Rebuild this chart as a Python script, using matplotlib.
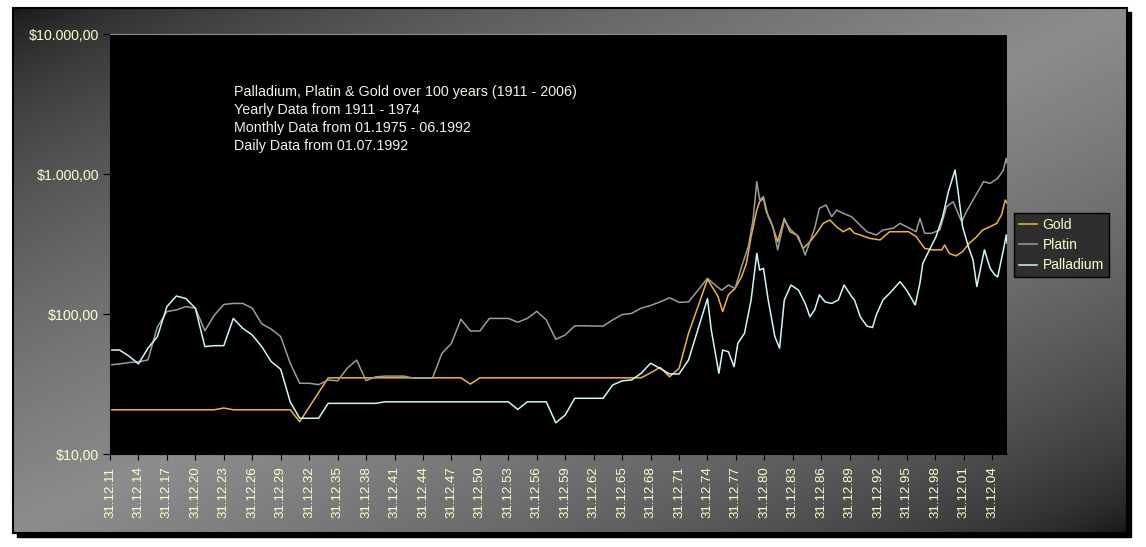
import numpy as np
import matplotlib
matplotlib.use('agg')
import matplotlib.pyplot as plt
from matplotlib.patches import Rectangle
from matplotlib.ticker import FixedLocator, NullLocator

plt.rcParams['font.family'] = ['Liberation Sans', 'DejaVu Sans']

# --- data (decimal year, USD/oz); 31.12.YYYY is placed at YYYY+1 ---
gold_x = [1912, 1923, 1924, 1925, 1931, 1932, 1933, 1934, 1935, 1949, 1950, 1951,
          1968, 1969, 1970, 1971, 1972, 1973, 1974, 1975,
          1975.6, 1976.1, 1976.6, 1977.2, 1977.9, 1978.6, 1979.1, 1979.6, 1980.2, 1980.5,
          1980.9, 1981.2, 1981.7, 1982.4, 1983.1, 1983.7, 1984.4, 1985.1, 1985.8, 1986.5,
          1987.2, 1987.9, 1988.6, 1989.3, 1990.0, 1990.5, 1991.1, 1992.1, 1993.2, 1994.2,
          1995.3, 1996.2, 1997.0, 1997.9, 1998.8, 1999.7, 2000.0, 2000.5, 2001.2, 2001.9,
          2002.6, 2003.4, 2004.0, 2004.8, 2005.5, 2006.0, 2006.4, 2006.58]
gold_y = [20.7, 20.7, 21.3, 20.7, 20.7, 17.0, 21.6, 27.5, 35, 35, 31.6, 35,
          35, 38, 41.6, 35.6, 40.9, 72.8, 113, 177,
          152, 134, 104, 137, 152, 185, 230, 357, 553, 634,
          670, 538, 456, 328, 482, 387, 367, 294, 328, 377,
          444, 469, 420, 387, 410, 377, 367, 347, 338, 387,
          387, 387, 357, 294, 287, 287, 311, 271, 260, 279,
          320, 357, 398, 420, 444, 510, 652, 620]

platin_x = list(range(1912, 1976)) + [
    1975.8, 1976.5, 1977.2, 1977.9, 1978.6, 1979.3, 1979.8, 1980.2, 1980.5, 1980.9,
    1981.4, 1981.9, 1982.4, 1983.1, 1983.8, 1984.6, 1985.3, 1985.8, 1986.3, 1986.8,
    1987.5, 1988.1, 1988.6, 1989.3, 1990.2, 1990.9, 1991.8, 1992.8, 1993.5, 1994.6,
    1995.3, 1996.3, 1997.0, 1997.4, 1997.9, 1998.6, 1999.5, 2000.2, 2000.9, 2001.2,
    2001.8, 2002.3, 2003.2, 2004.1, 2004.8, 2005.6, 2006.2, 2006.5, 2006.58]
platin_y = [43.3, 44, 45, 45.5, 47, 81, 104, 107, 113, 110,
            76, 98, 117, 119, 119, 110, 85, 78, 69, 44.5,
            32, 32, 31.3, 33.8, 33.3, 40.9, 46.9, 33.4, 35.6, 36,
            36, 36, 34.8, 34.8, 34.8, 52.4, 61.7, 91.7, 75.6, 75.6,
            93, 93, 93, 87.3, 93, 104.5, 90.7, 66, 70.8, 82.4,
            82.4, 82, 82, 90.7, 99, 101, 110, 115, 122, 130.6,
            121, 122, 148, 180] + [
    161, 148, 161, 152, 218, 303, 469, 881, 652, 689,
    495, 420, 287, 469, 398, 357, 264, 328, 410, 569,
    601, 495, 553, 524, 495, 444, 387, 367, 398, 410,
    444, 410, 387, 482, 377, 377, 398, 584, 634, 569,
    456, 538, 689, 881, 858, 931, 1068, 1294, 1200]

palladium_x = list(range(1912, 1976)) + [
    1975.4, 1975.8, 1976.2, 1976.6, 1977.2, 1977.8, 1978.2, 1978.9, 1979.6, 1980.2,
    1980.5, 1980.9, 1981.4, 1982.1, 1982.6, 1983.1, 1983.8, 1984.6, 1985.3, 1985.8,
    1986.3, 1986.8, 1987.4, 1988.1, 1988.8, 1989.4, 1990.2, 1990.5, 1991.1, 1991.8,
    1992.4, 1992.8, 1993.5, 1994.2, 1995.3, 1996.0, 1996.9, 1997.4, 1997.7, 1998.4,
    1999.1, 1999.8, 2000.4, 2001.1, 2001.4, 2001.9, 2002.5, 2003.0, 2003.4, 2003.9,
    2004.2, 2004.8, 2005.3, 2005.6, 2006.2, 2006.5, 2006.58]
palladium_y = [55.3, 55.3, 50, 44, 57, 69, 113, 134.5, 129, 110,
               58.5, 59.4, 59.4, 93, 79, 70.8, 58.5, 45.7, 40.3, 23.6,
               18, 18, 18, 23, 23, 23, 23, 23, 23, 23.6,
               23.6, 23.6, 23.6, 23.6, 23.6, 23.6, 23.6, 23.6, 23.6, 23.6,
               23.6, 23.6, 23.6, 20.8, 23.6, 23.6, 23.6, 16.7, 19, 25,
               25, 25, 25, 31.1, 33.3, 33.8, 37.7, 44.5, 40.9, 37.3,
               37.3, 46.9, 78, 129] + [
    76.9, 53.8, 37.7, 55.3, 53.8, 42, 61.8, 72.8, 126, 271,
    206, 212, 126, 69, 57, 126, 161, 148, 119, 95.7,
    107, 137, 122, 119, 126, 161, 133, 126, 95.7, 82,
    80, 98.4, 126, 140.6, 170, 148, 116, 166, 230, 287,
    357, 495, 748, 1068, 768, 420, 303, 243, 157, 230,
    287, 212, 190, 184, 287, 367, 320]

tick_years = list(range(1911, 2005, 3))
y_ticks = [10, 100, 1000, 10000]
y_labels = ['$10,00', '$100,00', '$1.000,00', '$10.000,00']
note = ['Palladium, Platin & Gold over 100 years (1911 - 2006)',
        'Yearly Data from 1911 - 1974',
        'Monthly Data from 01.1975 - 06.1992',
        'Daily Data from 01.07.1992']

W, H = 1146, 547
fig = plt.figure(figsize=(W / 100, H / 100), dpi=100, facecolor='white')


def fx(px):
    return px / W


def fy(py):
    return 1 - py / H


# chart area with drop shadow and diagonal gradient
cx0, cy0, cx1, cy1 = 13, 8, 1127, 533
fig.patches.append(Rectangle((fx(cx0 + 4), fy(cy1 + 4)), (cx1 - cx0) / W, (cy1 - cy0) / H,
                             transform=fig.transFigure, color='black', zorder=0))
bg = fig.add_axes([fx(cx0), fy(cy1), (cx1 - cx0) / W, (cy1 - cy0) / H], zorder=1)
u, v = np.meshgrid(np.linspace(0, 1, 500), np.linspace(0, 1, 250))
t = (u + v) / 2
shade = 0.08 + 0.47 * (1 - np.abs(2 * t - 1)) ** 0.6
bg.imshow(shade, cmap='gray', vmin=0, vmax=1, aspect='auto', extent=[0, 1, 0, 1], origin='upper')
bg.set_xticks([])
bg.set_yticks([])
for s in bg.spines.values():
    s.set_color('black')
    s.set_linewidth(1.5)

# plot area
ax = fig.add_axes([fx(110), fy(454), 897 / W, 420 / H], zorder=2)
ax.set_facecolor('black')
ax.plot(gold_x, gold_y, color='#f2b530', lw=1.1, label='Gold')
ax.plot(platin_x, platin_y, color='#9c9c9c', lw=1.1, label='Platin')
ax.plot(palladium_x, palladium_y, color='#ccf8fa', lw=1.1, label='Palladium')

ax.set_yscale('log')
ax.set_ylim(10, 10000)
ax.set_xlim(1912, 2006.58)
ax.yaxis.set_major_locator(FixedLocator(y_ticks))
ax.yaxis.set_minor_locator(NullLocator())
ax.set_yticklabels(y_labels, fontsize=10.2)
ax.set_xticks([y + 1 for y in tick_years])
ax.set_xticklabels(['31.12.%02d' % (y % 100) for y in tick_years], rotation=90, fontsize=9.5)
ax.tick_params(axis='both', direction='out', color='black', labelcolor='#ffffcc')
ax.tick_params(axis='y', length=5, pad=3)
ax.tick_params(axis='x', length=4, pad=5)
ax.spines['right'].set_visible(False)
ax.spines['top'].set_color('#8c8c8c')
ax.spines['left'].set_color('black')
ax.spines['bottom'].set_color('black')

for i, line in enumerate(note):
    fig.text(fx(234), fy(92 + 18 * i), line, color='#f2f2e6', fontsize=10.3, va='center')

leg = ax.legend(loc='upper left', bbox_to_anchor=(fx(1014), fy(213)), bbox_transform=fig.transFigure,
                fontsize=10, labelcolor='#ffffcc', facecolor='#2e2e2e', edgecolor='black',
                fancybox=False, framealpha=1, handlelength=1.3, handletextpad=0.4,
                borderpad=0.35, labelspacing=0.45, borderaxespad=0)
leg.get_frame().set_linewidth(1)

fig.savefig('out.png', dpi=100, facecolor='white')
